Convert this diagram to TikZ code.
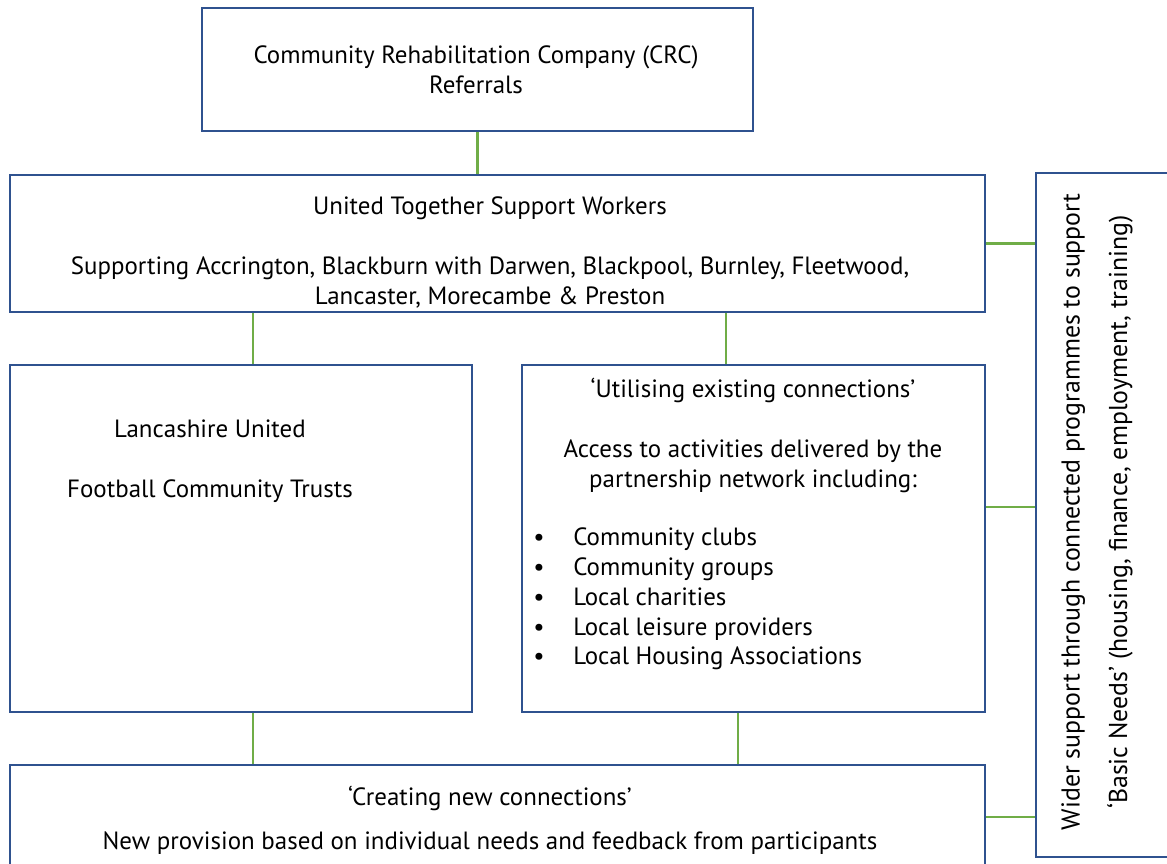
\documentclass[tikz,border=0pt]{standalone}
\usepackage{fontspec}
\setmainfont{PT Sans}
\usetikzlibrary{positioning}
\definecolor{boxblue}{HTML}{2F528F}
\definecolor{linkgreen}{HTML}{70AD47}

\begin{document}
\begin{tikzpicture}[x=0.02cm,y=-0.02cm,
box/.style={rectangle,draw=boxblue,line width=1.4pt,inner sep=0},
txt/.style={align=center,inner sep=0,font=\fontsize{14.2}{17}\selectfont},
link/.style={draw=linkgreen,line width=1.2pt}]
\useasboundingbox (0,0) rectangle (1167,863);
\clip (0,0) rectangle (1167,863);
\node[box,minimum width=11.02cm,minimum height=2.46cm] (crc) at (477.5,69.5) {};
\node[box,minimum width=19.5cm,minimum height=2.74cm] (workers) at (497.5,243.5) {};
\node[box,minimum width=9.24cm,minimum height=6.94cm] (trusts) at (241,538.5) {};
\node[box,minimum width=9.26cm,minimum height=6.94cm] (existing) at (753.5,538.5) {};
\node[box,minimum width=19.5cm,minimum height=2.5cm] (newconn) at (497.5,827.5) {};
\node[box,minimum width=3.28cm,minimum height=13.68cm] (wider) at (1118,515) {};
\node[txt] (crcT) at (476,70) {Community Rehabilitation Company (CRC)\\Referrals};
\node[txt] (workersT) at (490,252.5) {United Together Support Workers\\[17pt]
Supporting Accrington, Blackburn with Darwen, Blackpool, Burnley, Fleetwood,\\
Lancaster, Morecambe \& Preston};
\node[txt] (trustsT) at (210,461) {Lancashire United\\[17pt]Football Community Trusts};
\node[txt] (existingT) at (753,435.5) {‘Utilising existing connections’\\[17pt]
Access to activities delivered by the\\partnership network including:};
\node[txt,align=left,anchor=west] (existingL) at (533,599) {%
\makebox[0.8cm][l]{\textbullet}Community clubs\\
\makebox[0.8cm][l]{\textbullet}Community groups\\
\makebox[0.8cm][l]{\textbullet}Local charities\\
\makebox[0.8cm][l]{\textbullet}Local leisure providers\\
\makebox[0.8cm][l]{\textbullet}Local Housing Associations};
\node[txt] (newconnT) at (490,820.5) {‘Creating new connections’\\[8pt]
New provision based on individual needs and feedback from participants};
\node[txt,rotate=90,font=\fontsize{14.7}{17}\selectfont] (widerT) at (1097,512) {Wider support through connected programmes to support\\[10pt]
‘Basic Needs’ (housing, finance, employment, training)};
\draw[link] (crc.south) -- (crc.south |- workers.north);
\draw[link] ([xshift=0.24cm]trusts.north) -- ([xshift=0.24cm]trusts.north |- workers.south);
\draw[link] ([xshift=-0.55cm]existing.north) -- ([xshift=-0.55cm]existing.north |- workers.south);
\draw[link] ([xshift=0.24cm]trusts.south) -- ([xshift=0.24cm]trusts.south |- newconn.north);
\draw[link] ([xshift=-0.31cm]existing.south) -- ([xshift=-0.31cm]existing.south |- newconn.north);
\draw[link] (workers.east) -- (workers.east -| wider.west);
\draw[link] ([yshift=0.63cm]existing.east) -- ([yshift=0.63cm]existing.east -| wider.west);
\draw[link] ([yshift=0.21cm]newconn.east) -- ([yshift=0.21cm]newconn.east -| wider.west);
\end{tikzpicture}
\end{document}
